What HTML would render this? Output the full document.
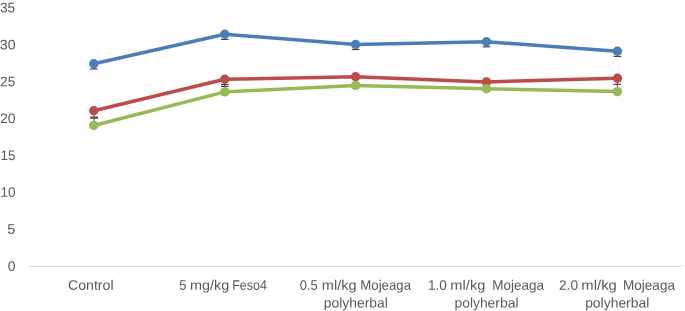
<!DOCTYPE html>
<html><head><meta charset="utf-8"><title>chart</title><style>html,body{margin:0;padding:0;background:#fff;overflow:hidden}svg{display:block}text{font-family:"Liberation Sans",sans-serif;fill:#595959}</style></head><body>
<svg width="685" height="311" viewBox="0 0 685 311">
<rect width="685" height="311" fill="#fff"/>
<line x1="29.0" y1="266.5" x2="682.7" y2="266.5" stroke="#d9d9d9" stroke-width="1"/>
<line x1="93.8" y1="63.8" x2="93.8" y2="69.0" stroke="#444444" stroke-width="1.2"/>
<line x1="90.0" y1="69.0" x2="97.6" y2="69.0" stroke="#444444" stroke-width="1.2"/>
<line x1="224.8" y1="34.3" x2="224.8" y2="39.4" stroke="#444444" stroke-width="1.2"/>
<line x1="221.0" y1="39.4" x2="228.6" y2="39.4" stroke="#444444" stroke-width="1.2"/>
<line x1="355.6" y1="44.5" x2="355.6" y2="49.5" stroke="#444444" stroke-width="1.2"/>
<line x1="351.8" y1="49.5" x2="359.4" y2="49.5" stroke="#444444" stroke-width="1.2"/>
<line x1="486.5" y1="41.7" x2="486.5" y2="46.8" stroke="#444444" stroke-width="1.2"/>
<line x1="482.7" y1="46.8" x2="490.3" y2="46.8" stroke="#444444" stroke-width="1.2"/>
<line x1="617.4" y1="51.2" x2="617.4" y2="56.4" stroke="#444444" stroke-width="1.2"/>
<line x1="613.6" y1="56.4" x2="621.2" y2="56.4" stroke="#444444" stroke-width="1.2"/>
<polyline points="93.8,63.8 224.8,34.3 355.6,44.5 486.5,41.7 617.4,51.2" fill="none" stroke="#4a7ebb" stroke-width="3.5" stroke-linejoin="round" stroke-linecap="round"/>
<circle cx="93.8" cy="63.8" r="4.7" fill="#4a7ebb"/>
<circle cx="224.8" cy="34.3" r="4.7" fill="#4a7ebb"/>
<circle cx="355.6" cy="44.5" r="4.7" fill="#4a7ebb"/>
<circle cx="486.5" cy="41.7" r="4.7" fill="#4a7ebb"/>
<circle cx="617.4" cy="51.2" r="4.7" fill="#4a7ebb"/>
<line x1="94.1" y1="110.4" x2="94.1" y2="125.2" stroke="#444444" stroke-width="0.9"/>
<line x1="90.1" y1="117.1" x2="98.1" y2="117.1" stroke="#444444" stroke-width="1.2"/>
<line x1="90.1" y1="118.2" x2="98.1" y2="118.2" stroke="#444444" stroke-width="1.2"/>
<line x1="221.0" y1="84.5" x2="228.6" y2="84.5" stroke="#444444" stroke-width="1.2"/>
<line x1="221.0" y1="86.4" x2="228.6" y2="86.4" stroke="#444444" stroke-width="1.2"/>
<line x1="224.8" y1="79.0" x2="224.8" y2="91.6" stroke="#444444" stroke-width="0.9"/>
<line x1="617.4" y1="77.7" x2="617.4" y2="91.3" stroke="#444444" stroke-width="0.9"/>
<line x1="613.4" y1="84.3" x2="621.0" y2="84.3" stroke="#444444" stroke-width="1.2"/>
<polyline points="93.8,110.7 224.8,79.2 355.6,76.8 486.5,81.9 617.4,78.3" fill="none" stroke="#be4b48" stroke-width="3.5" stroke-linejoin="round" stroke-linecap="round"/>
<circle cx="93.8" cy="110.7" r="4.7" fill="#be4b48"/>
<circle cx="224.8" cy="79.2" r="4.7" fill="#be4b48"/>
<circle cx="355.6" cy="76.8" r="4.7" fill="#be4b48"/>
<circle cx="486.5" cy="81.9" r="4.7" fill="#be4b48"/>
<circle cx="617.4" cy="78.3" r="4.7" fill="#be4b48"/>
<polyline points="93.8,125.5 224.8,91.9 355.6,85.4 486.5,88.8 617.4,91.6" fill="none" stroke="#98b954" stroke-width="3.5" stroke-linejoin="round" stroke-linecap="round"/>
<circle cx="93.8" cy="125.5" r="4.7" fill="#98b954"/>
<circle cx="224.8" cy="91.9" r="4.7" fill="#98b954"/>
<circle cx="355.6" cy="85.4" r="4.7" fill="#98b954"/>
<circle cx="486.5" cy="88.8" r="4.7" fill="#98b954"/>
<circle cx="617.4" cy="91.6" r="4.7" fill="#98b954"/>
<g opacity="0.999">
<text transform="translate(-0.11,12.35) rotate(0.05) scale(1.0289,1.03)" font-size="13.3">35</text>
<text transform="translate(-0.14,49.25) rotate(0.05) scale(1.0689,1.03)" font-size="13.3">30</text>
<text transform="translate(0.09,86.15) rotate(0.05) scale(1.0293,1.03)" font-size="13.3">25</text>
<text transform="translate(0.07,123.05) rotate(0.05) scale(1.0546,1.03)" font-size="13.3">20</text>
<text transform="translate(0.60,159.95) rotate(0.05) scale(0.9936,1.03)" font-size="13.3">15</text>
<text transform="translate(0.58,196.85) rotate(0.05) scale(1.0194,1.03)" font-size="13.3">10</text>
<text transform="translate(7.23,233.75) rotate(0.05) scale(1.0848,1.03)" font-size="13.3">5</text>
<text transform="translate(7.80,270.65) rotate(0.05) scale(1.0537,1.03)" font-size="13.3">0</text>
<text transform="translate(68.04,289.80) rotate(0.05) scale(1.0626,1.03)" font-size="13.3">Control</text>
<text transform="translate(179.20,289.80) rotate(0.05) scale(0.9747,1.03)" font-size="13.3">5</text>
<text transform="translate(189.98,289.80) rotate(0.05) scale(1.0835,1.03)" font-size="13.3">mg/kg</text>
<text transform="translate(232.23,289.80) rotate(0.05) scale(0.9396,1.03)" font-size="13.3">Feso4</text>
<text transform="translate(299.70,289.80) rotate(0.05) scale(0.9680,1.03)" font-size="13.3">0.5</text>
<text transform="translate(321.77,289.80) rotate(0.05) scale(1.0986,1.03)" font-size="13.3">ml/kg</text>
<text transform="translate(360.28,289.80) rotate(0.05) scale(0.9947,1.03)" font-size="13.3">Mojeaga</text>
<text transform="translate(323.84,307.50) rotate(0.05) scale(1.0433,1.03)" font-size="13.3">polyherbal</text>
<text transform="translate(427.97,289.80) rotate(0.05) scale(1.0228,1.03)" font-size="13.3">1.0</text>
<text transform="translate(450.37,289.80) rotate(0.05) scale(1.1019,1.03)" font-size="13.3">ml/kg</text>
<text transform="translate(492.26,289.80) rotate(0.05) scale(1.0147,1.03)" font-size="13.3">Mojeaga</text>
<text transform="translate(454.44,307.50) rotate(0.05) scale(1.0450,1.03)" font-size="13.3">polyherbal</text>
<text transform="translate(558.99,289.80) rotate(0.05) scale(1.0276,1.03)" font-size="13.3">2.0</text>
<text transform="translate(581.35,289.80) rotate(0.05) scale(1.1185,1.03)" font-size="13.3">ml/kg</text>
<text transform="translate(623.06,289.80) rotate(0.05) scale(1.0167,1.03)" font-size="13.3">Mojeaga</text>
<text transform="translate(585.13,307.50) rotate(0.05) scale(1.0466,1.03)" font-size="13.3">polyherbal</text>
</g>
</svg></body></html>
